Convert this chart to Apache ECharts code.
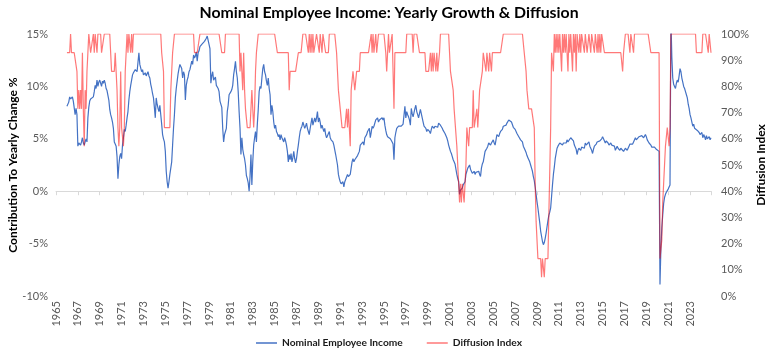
<!DOCTYPE html>
<html><head><meta charset="utf-8">
<script src="https://cdn.jsdelivr.net/npm/echarts@6/dist/echarts.min.js"></script>
<style>html,body{margin:0;padding:0;background:#fff}#chart{width:778px;height:362px}</style>
</head><body><div id="chart"></div>
<script>
// Monthly data, first value = January 1966
const firstYear = 1966;
const axisStartYear = 1965;
const seriesNames = ['Nominal Employee Income', 'Diffusion Index'];

// Nominal employee income, yearly change (%), monthly
const nei1960s = [
 8.1,8.1,8.5,9.0,8.8,8.7,9.0,8.6,8.7,7.3,7.9,7.3,
 4.3,4.6,4.5,4.4,4.7,5.1,4.6,4.4,4.7,5.0,4.7,7.0,
 8.0,8.6,8.8,8.9,8.7,9.0,9.5,10.1,9.8,10.6,10.0,10.4,
 10.6,10.6,10.0,10.5,10.3,10.6,10.3,9.8,9.6,9.5,8.7,7.8];
const nei1970s = [
 7.3,7.0,6.6,6.0,4.7,4.5,4.3,3.3,1.2,2.5,3.3,3.6,
 3.1,4.4,5.1,5.9,5.7,6.3,7.0,7.6,8.7,9.5,10.1,10.6,
 11.1,11.3,11.4,11.6,11.5,11.4,12.3,13.2,12.1,12.0,11.4,11.6,
 11.1,11.2,11.3,11.0,10.9,11.4,11.0,10.8,10.2,9.8,9.3,8.9,
 8.0,7.0,8.9,8.3,7.9,7.6,8.2,7.3,6.4,5.4,5.0,4.7,
 3.8,1.9,0.9,0.3,0.9,1.6,2.2,2.8,4.4,6.0,7.3,8.9,
 9.8,10.5,11.2,11.7,12.1,11.9,11.7,10.8,11.4,11.1,8.7,10.1,
 10.6,10.9,11.4,11.6,11.5,12.4,12.1,13.0,12.7,12.9,13.3,12.4,
 13.2,13.4,13.8,13.7,14.0,14.0,14.1,14.3,14.2,14.6,14.8,14.9,
 14.8,13.6,10.3,11.0,11.4,10.6,10.5,10.9,10.1,10.0,9.8,9.5];
const nei1980s = [
 8.6,8.7,8.0,6.0,4.7,5.4,5.7,6.0,7.6,8.2,9.2,9.3,
 9.5,9.7,10.1,11.1,11.7,12.4,11.4,10.8,9.5,7.6,6.0,3.5,
 5.1,4.0,3.5,3.1,2.5,1.5,1.2,0.8,0.0,1.4,3.5,0.6,
 2.8,4.4,5.1,5.7,4.7,6.4,7.8,9.5,10.0,9.8,10.8,11.7,
 12.1,11.4,11.1,10.5,10.1,10.8,9.8,9.2,7.3,8.2,7.6,6.6,
 6.0,6.3,5.7,5.5,5.2,5.4,4.9,5.4,5.1,5.2,4.7,5.1,
 4.8,4.4,3.8,2.8,3.5,3.0,3.6,2.8,3.2,3.8,3.1,2.7,
 3.1,3.8,4.4,5.1,5.7,6.0,6.2,6.6,6.3,6.0,6.2,6.5,
 6.0,5.7,5.4,6.0,6.5,7.0,6.3,6.2,7.0,6.6,7.0,7.6,
 6.6,7.0,6.6,6.0,6.3,6.0,5.7,6.0,5.4,5.1,5.3,5.4];
const nei1990s = [
 5.7,5.1,4.9,4.8,4.7,4.4,4.3,3.5,3.0,2.5,1.6,1.2,
 0.9,0.7,0.6,0.9,0.4,0.9,1.0,0.9,1.6,1.4,1.5,1.6,
 2.2,2.8,3.1,2.8,3.0,2.9,3.1,3.4,3.5,3.8,4.4,4.3,
 4.5,4.7,4.4,5.1,5.2,5.4,5.7,5.8,6.0,5.1,5.6,6.2,
 6.0,6.2,6.3,6.8,6.9,7.0,6.6,6.8,6.8,6.9,7.0,6.8,
 7.0,6.3,5.8,5.4,5.2,5.1,5.2,5.0,4.9,4.7,4.5,3.0,
 5.1,5.6,6.0,6.0,6.2,6.1,6.3,6.2,6.3,6.4,6.5,8.1,
 7.0,7.6,7.3,7.1,6.8,6.3,7.9,7.4,7.1,7.5,7.9,8.2,
 7.6,7.3,7.0,7.4,7.8,7.4,7.0,6.6,6.2,6.3,6.0,5.7,
 5.9,6.0,5.7,5.5,5.9,6.2,6.1,6.0,6.2,6.3,6.2,6.1];
const nei2000s = [
 6.5,6.4,6.3,6.2,6.0,5.8,5.7,5.5,5.4,5.1,4.8,4.4,
 4.1,3.8,3.6,3.3,3.0,2.8,2.6,2.5,1.6,1.2,0.9,-0.3,
 0.1,0.2,0.3,0.6,0.7,0.9,1.6,1.9,2.2,2.3,2.5,2.1,
 2.0,1.7,1.8,1.9,1.6,1.8,1.7,1.8,1.9,1.6,1.4,2.2,
 2.6,2.8,3.3,3.8,3.9,4.1,4.3,4.6,4.5,4.4,4.6,4.7,
 4.9,4.6,4.4,4.9,5.4,5.3,5.2,5.5,5.7,5.8,5.9,6.2,
 6.2,6.3,6.3,6.5,6.6,6.8,6.7,6.7,6.6,6.5,6.1,6.0,
 5.9,5.8,5.5,5.4,5.2,5.1,4.9,4.8,4.7,4.3,4.1,3.9,
 3.7,3.4,3.2,3.0,2.8,2.5,2.2,1.9,1.4,1.0,0.4,-0.3,
 -1.0,-1.6,-2.3,-3.0,-3.8,-4.3,-4.8,-5.1,-4.9,-4.5,-4.0,-3.4];
const nei2010s = [
 -2.8,-2.3,-2.0,-1.6,-0.5,0.6,1.6,2.3,3.1,3.6,4.1,4.3,
 4.4,4.6,4.7,4.5,4.4,4.6,4.7,4.6,4.6,4.9,4.7,4.6,
 4.8,5.1,5.2,5.2,4.8,4.4,4.3,4.0,3.5,3.9,4.1,4.0,
 3.9,4.2,4.3,4.2,4.1,4.6,4.4,4.3,4.5,4.7,4.3,4.1,
 3.9,3.6,4.0,4.3,4.4,4.5,4.7,4.6,4.6,4.8,4.9,5.0,
 5.2,5.0,4.9,4.6,4.8,4.7,4.6,4.4,4.5,4.6,4.4,4.3,
 4.4,4.3,3.9,4.1,4.3,4.1,4.0,3.9,4.1,4.0,4.1,3.8,
 3.9,4.1,4.0,3.9,4.1,4.3,4.5,4.6,4.4,4.5,4.7,4.6,
 5.1,4.9,5.0,4.9,5.2,5.1,5.1,5.3,5.4,5.1,5.2,5.4,
 5.2,4.9,4.8,4.6,4.5,4.4,4.2,4.1,4.3,4.2,4.1,4.0];
const nei2020s = [
 3.9,3.9,3.8,-8.9,-5.5,-3.5,-2.3,-1.2,-0.6,-0.3,-0.1,0.0,
 0.2,0.4,0.6,16.5,12.8,10.8,10.2,10.0,9.8,10.3,10.6,10.4,
 11.0,11.7,11.4,10.8,10.4,10.0,9.8,9.5,9.2,8.9,8.3,7.9,
 7.3,7.0,6.6,6.2,6.4,6.0,6.1,5.9,5.8,5.7,5.6,5.4,
 5.3,5.6,5.1,5.4,5.2,4.9,5.3,5.0,4.9,5.2,4.9,5.1];

// Diffusion index: number of components (out of 14) growing, monthly
const DIFFUSION_COMPONENTS = 14;
const dif1960s = [
 13,13,13,13,14,13,13,13,13,13,13,12,
 10,11,10,11,10,13,10,8,11,10,12,13,
 14,14,13,13,13,14,13,14,14,13,14,14,
 14,14,13,13,13,14,14,14,14,14,14,14];
const dif1970s = [
 14,12,12,12,12,13,12,11,9,8,9,12,
 9,9,8,9,12,13,14,13,14,14,13,14,
 13,14,14,14,14,14,14,14,14,14,14,14,
 14,14,14,14,14,14,14,14,14,14,14,14,
 14,14,14,14,14,14,14,14,13,13,12,9,
 9,9,9,9,9,9,11,12,13,13,14,14,
 14,14,14,14,14,14,14,14,14,14,14,14,
 14,14,14,14,14,14,14,14,13,13,13,13,
 13,13,14,14,14,14,14,14,14,14,14,14,
 14,14,14,14,14,14,14,14,14,14,14,14];
const dif1980s = [
 14,14,13,13,13,13,14,14,14,14,14,14,
 14,14,14,14,14,14,14,14,14,14,12,13,
 12,11,13,11,10,10,9,9,9,9,10,11,
 11,9,10,12,13,13,14,14,14,14,14,14,
 14,14,14,14,14,14,14,14,14,14,14,14,
 14,14,14,13,13,13,13,13,13,13,13,13,
 13,13,13,13,11,12,12,12,12,12,12,12,
 12,12,13,13,13,13,13,14,14,14,14,14,
 14,13,14,13,14,13,14,13,13,13,14,14,
 14,13,14,14,13,14,14,14,13,13,13,13];
const dif1990s = [
 14,14,14,14,14,14,14,14,13,12,11,11,
 10,10,9,9,9,9,9,10,9,10,10,8,
 11,11,12,12,11,11,12,12,12,12,13,13,
 13,13,13,13,13,13,13,13,13,13,14,13,
 14,13,13,14,13,13,14,14,14,14,14,14,
 14,14,13,12,12,14,13,13,13,14,14,10,
 13,13,13,13,13,13,13,13,13,13,13,13,
 13,14,14,14,14,14,14,14,13,14,14,14,
 14,14,14,13,13,13,13,13,13,13,12,12,
 12,12,12,13,12,13,12,13,13,12,13,12];
const dif2000s = [
 12,13,14,14,14,14,14,14,14,14,14,14,
 13,12,12,12,11,10,10,10,8,7,6,5,
 6,5,6,6,5,6,7,9,9,8,9,9,
 9,9,11,9,9,9,10,9,10,11,11,11,
 12,13,13,13,12,13,13,12,13,13,12,13,
 13,13,13,13,13,13,13,13,13,13,13,14,
 14,14,14,14,14,14,14,14,14,14,14,14,
 14,14,14,14,14,14,14,14,14,14,13,13,
 12,11,11,10,10,10,10,10,10,9,6,4,
 3,2,2,2,2,1,2,2,1,2,2,2];
const dif2010s = [
 2,2,2,9,13,13,12,14,13,14,13,14,
 13,14,13,12,14,13,14,13,14,13,12,14,
 13,14,14,12,14,13,14,12,14,14,13,14,
 13,14,14,14,13,14,14,13,13,14,14,13,
 14,14,14,13,14,14,13,14,13,14,13,14,
 14,14,13,13,13,13,13,13,13,13,13,13,
 13,13,13,13,13,13,13,13,13,13,12,13,
 13,14,14,14,14,14,13,14,14,14,13,14,
 14,14,14,14,14,14,14,14,14,14,14,14,
 14,14,14,14,14,13,13,13,13,13,13,13];
const dif2020s = [
 13,13,13,2,2,3,5,6,7,8,8,9,
 9,8,9,14,14,14,14,14,14,14,14,14,
 14,14,14,14,14,14,14,14,14,14,14,14,
 14,14,14,14,14,14,14,13,13,13,13,13,
 13,13,14,14,14,14,14,14,13,14,14,13];

const income = [].concat(nei1960s, nei1970s, nei1980s, nei1990s, nei2000s, nei2010s, nei2020s);
const diffusionCount = [].concat(dif1960s, dif1970s, dif1980s, dif1990s, dif2000s, dif2010s, dif2020s);

// x = years since January 1965
const monthX = i => (firstYear - axisStartYear) + i / 12;
const incomeData = income.map((v, i) => [monthX(i), v]);
const diffusionData = diffusionCount.map((k, i) => [monthX(i), k / DIFFUSION_COMPONENTS * 100]);
const xMax = monthX(income.length - 1);

const FONT = 'Lato, "Liberation Sans", sans-serif';
const labelStyle = {color: '#595959', fontSize: 11, fontFamily: FONT};

const chart = echarts.init(document.getElementById('chart'), null, {renderer: 'canvas'});
chart.setOption({
  animation: false,
  backgroundColor: '#fff',
  title: {
    text: 'Nominal Employee Income: Yearly Growth & Diffusion',
    left: 'center', top: 0,
    textStyle: {fontFamily: FONT, fontWeight: 'bold', fontSize: 15.8, color: '#000'}
  },
  grid: {left: 56, right: 67, top: 34, bottom: 66, containLabel: false, outerBoundsMode: 'none'},
  legend: {
    data: seriesNames, bottom: 9, left: 'center',
    icon: 'rect', itemWidth: 21, itemHeight: 1.5, itemGap: 24,
    textStyle: {fontFamily: FONT, fontSize: 10.2, fontWeight: 'bold', color: '#1a1a1a'}
  },
  xAxis: [
    {type: 'value', min: 0, max: xMax, interval: 2, position: 'bottom',
     axisLine: {show: false, onZero: false}, axisTick: {show: false}, splitLine: {show: false},
     axisLabel: Object.assign({rotate: 90, margin: 5, showMaxLabel: false,
        formatter: v => String(axisStartYear + Math.round(v))}, labelStyle)},
    {type: 'value', min: 0, max: xMax, interval: 2, position: 'bottom',
     axisLine: {show: true, onZero: true, lineStyle: {color: '#d9d9d9', width: 1}},
     axisTick: {show: true, length: 4, lineStyle: {color: '#d9d9d9'}},
     axisLabel: {show: false}, splitLine: {show: false}}
  ],
  yAxis: [
    {type: 'value', min: -10, max: 15, interval: 5,
     name: 'Contribution To Yearly Change %', nameLocation: 'middle', nameGap: 37, nameRotate: 90,
     nameMoveOverlap: false,
     nameTextStyle: {fontFamily: FONT, fontWeight: 'bold', fontSize: 12, color: '#000'},
     axisLine: {show: false}, axisTick: {show: false}, splitLine: {show: false},
     axisLabel: Object.assign({formatter: '{value}%', margin: 8}, labelStyle)},
    {type: 'value', min: 0, max: 100, interval: 10, position: 'right',
     name: 'Diffusion Index', nameLocation: 'middle', nameGap: 44, nameRotate: 90,
     nameMoveOverlap: false,
     nameTextStyle: {fontFamily: FONT, fontWeight: 'bold', fontSize: 12, color: '#000'},
     axisLine: {show: false}, axisTick: {show: false}, splitLine: {show: false},
     axisLabel: Object.assign({formatter: '{value}%', margin: 10}, labelStyle)}
  ],
  series: [
    {name: seriesNames[0], type: 'line', xAxisIndex: 0, yAxisIndex: 0, data: incomeData,
     symbol: 'none', showSymbol: false, clip: true,
     lineStyle: {color: '#4472C4', width: 1.2}, itemStyle: {color: '#4472C4'}},
    {name: seriesNames[1], type: 'line', xAxisIndex: 0, yAxisIndex: 1, data: diffusionData,
     symbol: 'none', showSymbol: false, clip: true,
     lineStyle: {color: 'rgba(255,0,0,0.53)', width: 1.2}, itemStyle: {color: '#FF7878'}}
  ]
});
</script></body></html>
